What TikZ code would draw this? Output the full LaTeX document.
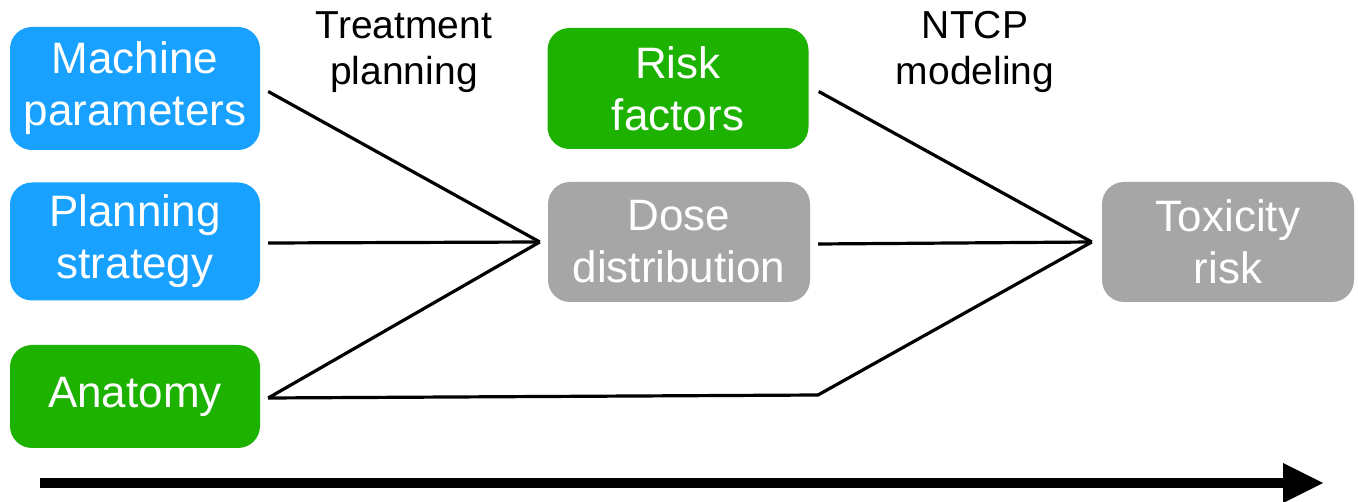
\documentclass[tikz,border=0pt]{standalone}
\usepackage{fontspec}
\setmainfont{Liberation Sans}
\definecolor{bblue}{RGB}{24,161,255}
\definecolor{bgreen}{RGB}{29,177,0}
\definecolor{bgray}{RGB}{166,166,166}
\begin{document}
\begin{tikzpicture}[x=1pt,y=-1pt,
  box/.style={rounded corners=22pt, minimum width=#1, text=white, align=center,
    font=\fontsize{44}{52}\selectfont, inner sep=0pt},
  box/.default=250pt,
  conn/.style={line width=3.2pt, line join=miter},
  lab/.style={align=center, font=\fontsize{39}{46}\selectfont, inner sep=0pt}]
\useasboundingbox[fill=white] (0,0) rectangle (1358,502);
% boxes
\node[box, fill=bblue, minimum height=123pt] (mp) at (135,88.5) {Machine\\parameters};
\node[box, fill=bblue, minimum height=118pt] (ps) at (135,241.5) {Planning\\strategy};
\node[box, fill=bgreen, minimum height=103pt] (an) at (135,396.5) {Anatomy};
\node[box=261pt, fill=bgreen, minimum height=121pt] (rf) at (678,88.5) {Risk\\factors};
\node[box=262pt, fill=bgray, minimum height=120pt] (dd) at (679,242) {Dose\\distribution};
\node[box=252pt, fill=bgray, minimum height=120pt] (tr) at (1228,242) {Toxicity\\risk};
% labels
\node[lab, anchor=base] (tp) at (404,85) {Treatment\\planning};
\node[lab, anchor=base] (nm) at (975,85) {NTCP\\modeling};
% convergence points
\coordinate (c1) at ([xshift=-8pt]dd.west);
\coordinate (c2) at ([xshift=-10pt]tr.west);
\coordinate (k) at (818,395);
% connectors
\draw[conn] ([xshift=8pt,yshift=-3pt]mp.east) -- (c1);
\draw[conn] ([xshift=8pt,yshift=-1.5pt]ps.east) -- (c1);
\draw[conn] ([xshift=8pt,yshift=-1.5pt]an.east) -- (c1);
\draw[conn] ([xshift=8pt,yshift=-1.5pt]an.east) -- (k) -- (c2);
\draw[conn] ([xshift=10pt,yshift=-3pt]rf.east) -- (c2);
\draw[conn] ([xshift=8pt,yshift=-2pt]dd.east) -- (c2);
% time arrow
\coordinate (a0) at (40,483);
\coordinate (a1) at (1285,483);
\coordinate (a2) at (1323,483);
\draw[line width=10pt] (a0) -- (a1);
\fill (1283,463) -- (a2) -- (1283,503) -- cycle;
\end{tikzpicture}
\end{document}
